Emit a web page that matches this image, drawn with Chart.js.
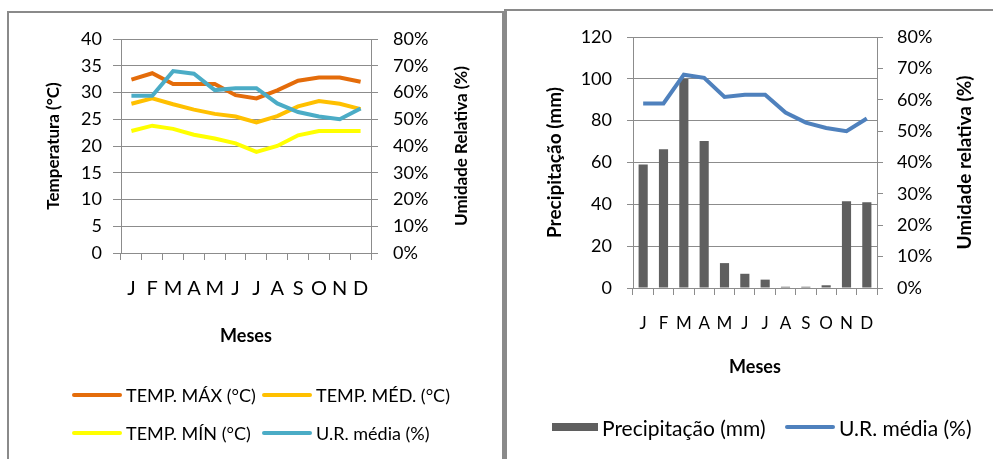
<!DOCTYPE html>
<html>
<head>
<meta charset="utf-8">
<script src="https://cdn.jsdelivr.net/npm/chart.js@4/dist/chart.umd.min.js"></script>
<style>
  html, body { margin: 0; padding: 0; background: #fff; }
  body { width: 993px; height: 459px; position: relative; overflow: hidden; font-family: Lato, "Open Sans", sans-serif; }
  .painel { position: absolute; border: 2px solid #8a8a8a; border-bottom: none; }
  #painelTemp { left: 7px; top: 11px; width: 493px; height: 460px; }
  #painelPrec { left: 504px; top: 9px; width: 500px; height: 460px; border-left-width: 3px; border-right: none; }
  canvas { position: absolute; top: 0; }
  #grafTemp { left: 0; }
  #grafPrec { left: 505px; }
  .legenda { position: absolute; display: flex; align-items: center; white-space: nowrap; color: #000; }
  .legenda .marca { display: inline-block; margin-right: 4px; }
</style>
</head>
<body>
<div class="painel" id="painelTemp"></div>
<div class="painel" id="painelPrec"></div>
<canvas id="grafTemp" width="502" height="459"></canvas>
<canvas id="grafPrec" width="488" height="459"></canvas>
<div id="legendas"></div>
<script>
// dados
const meses = ['J', 'F', 'M', 'A', 'M', 'J', 'J', 'A', 'S', 'O', 'N', 'D'];
const tempMax = [32.4, 33.6, 31.6, 31.6, 31.6, 29.5, 28.9, 30.4, 32.2, 32.8, 32.8, 32.0];
const tempMed = [27.9, 28.9, 27.8, 26.8, 26.0, 25.5, 24.4, 25.6, 27.4, 28.4, 27.9, 26.9];
const tempMin = [22.8, 23.8, 23.2, 22.1, 21.4, 20.5, 18.9, 20.0, 22.0, 22.8, 22.8, 22.8];
const urMedia = [58.8, 58.8, 68.0, 67.0, 60.9, 61.6, 61.6, 55.9, 52.7, 51.0, 50.0, 54.0];
const precipitacao = [59.0, 66.3, 100.0, 70.3, 11.9, 6.8, 4.0, 0.6, 0.6, 1.3, 41.5, 41.0];

const corGrade = '#8c8c8c';
const fonte = 'Lato, "Open Sans", sans-serif';

// título do eixo direito lido de baixo para cima (como no Excel)
const tituloDireita = {
  id: 'tituloDireita',
  afterDraw(chart, args, opts) {
    const eixo = chart.scales.yUR;
    const ctx = chart.ctx;
    ctx.save();
    ctx.translate(eixo.right - opts.margem, (eixo.top + eixo.bottom) / 2);
    ctx.rotate(-Math.PI / 2);
    ctx.font = 'bold ' + opts.size + 'px ' + fonte;
    ctx.fillStyle = '#000';
    ctx.textAlign = 'center';
    ctx.textBaseline = 'middle';
    ctx.fillText(opts.texto, 0, 0);
    ctx.restore();
  }
};

function eixoY(opcoes) {
  return {
    position: opcoes.position,
    min: 0,
    max: opcoes.max,
    ticks: {
      stepSize: opcoes.step,
      padding: opcoes.padding,
      color: '#000',
      font: { family: fonte, size: opcoes.fontSize },
      callback: opcoes.callback
    },
    grid: { color: corGrade, tickLength: opcoes.tick, drawOnChartArea: opcoes.grade },
    border: { color: corGrade },
    title: {
      display: !!opcoes.titulo,
      text: opcoes.titulo,
      color: '#000',
      font: { family: fonte, size: opcoes.tituloSize, weight: 'bold' },
      padding: { top: opcoes.tituloPad, bottom: 0 }
    },
    afterFit: (s) => { s.width = opcoes.largura; }
  };
}

function eixoX(opcoes) {
  return {
    offset: true,
    grid: { offset: true, drawOnChartArea: false, tickLength: 7, color: corGrade },
    border: { color: corGrade },
    ticks: {
      color: '#000', padding: opcoes.padding, autoSkip: false, maxRotation: 0, minRotation: 0,
      font: { family: fonte, size: opcoes.fontSize }
    },
    title: {
      display: true,
      text: 'Meses',
      color: '#000',
      font: { family: fonte, size: 18, weight: 'bold' },
      padding: { top: 0, bottom: opcoes.tituloPad }
    },
    afterFit: (s) => { s.height = opcoes.altura; }
  };
}

// gráfico da esquerda: temperaturas e umidade
new Chart(document.getElementById('grafTemp'), {
  type: 'line',
  data: {
    labels: meses,
    datasets: [
      { label: 'U.R. média (%)', data: urMedia, borderColor: '#4BACC6', yAxisID: 'yUR', order: 0 },
      { label: 'TEMP. MÁX (°C)', data: tempMax, borderColor: '#E46C0A', yAxisID: 'y', order: 1 },
      { label: 'TEMP. MÉD. (°C)', data: tempMed, borderColor: '#FFC000', yAxisID: 'y', order: 2 },
      { label: 'TEMP. MÍN (°C)', data: tempMin, borderColor: '#FFFF00', yAxisID: 'y', order: 3 }
    ]
  },
  plugins: [tituloDireita],
  options: {
    responsive: false,
    animation: false,
    layout: { padding: { top: 39 } },
    elements: { point: { radius: 0 }, line: { borderWidth: 4, tension: 0 } },
    plugins: {
      legend: { display: false },
      tooltip: { enabled: false },
      tituloDireita: { texto: 'Umidade Relativa (%)', size: 17, margem: 40 }
    },
    scales: {
      x: eixoX({ fontSize: 20, padding: 17, tituloPad: 112, altura: 206 }),
      y: eixoY({ position: 'left', max: 40, step: 5, padding: 11, tick: 8, grade: true, fontSize: 18,
        titulo: 'Temperatura (°C)', tituloSize: 17, tituloPad: 43, largura: 121 }),
      yUR: eixoY({ position: 'right', max: 80, step: 10, padding: 15, tick: 7, grade: false, fontSize: 18,
        callback: (v) => v + '%', largura: 131 })
    }
  }
});

// gráfico da direita: precipitação e umidade
new Chart(document.getElementById('grafPrec'), {
  type: 'bar',
  data: {
    labels: meses,
    datasets: [
      { type: 'line', label: 'U.R. média (%)', data: urMedia, borderColor: '#4F81BD', yAxisID: 'yUR', order: 0 },
      { type: 'bar', label: 'Precipitação (mm)', data: precipitacao, backgroundColor: '#5F5F5F', yAxisID: 'y', order: 1,
        barPercentage: 0.45, categoryPercentage: 1 }
    ]
  },
  plugins: [tituloDireita],
  options: {
    responsive: false,
    animation: false,
    layout: { padding: { top: 37 } },
    elements: { point: { radius: 0 }, line: { borderWidth: 4, tension: 0 } },
    plugins: {
      legend: { display: false },
      tooltip: { enabled: false },
      tituloDireita: { texto: 'Umidade relativa (%)', size: 19, margem: 28 }
    },
    scales: {
      x: eixoX({ fontSize: 17, padding: 18, tituloPad: 81, altura: 171 }),
      y: eixoY({ position: 'left', max: 120, step: 20, padding: 15, tick: 6, grade: true, fontSize: 18,
        titulo: 'Precipitação (mm)', tituloSize: 19, tituloPad: 38, largura: 128 }),
      yUR: eixoY({ position: 'right', max: 80, step: 10, padding: 14, tick: 6, grade: false, fontSize: 18,
        callback: (v) => v + '%', largura: 116 })
    }
  }
});

// legendas (posições iguais às do original)
const legendas = [
  { texto: 'TEMP. MÁX (°C)', cor: '#E46C0A', x: 72, y: 395, tipo: 'linha', size: 18 },
  { texto: 'TEMP. MÉD. (°C)', cor: '#FFC000', x: 262, y: 395, tipo: 'linha', size: 18 },
  { texto: 'TEMP. MÍN (°C)', cor: '#FFFF00', x: 72, y: 433, tipo: 'linha', size: 18 },
  { texto: 'U.R. média (%)', cor: '#4BACC6', x: 262, y: 433, tipo: 'linha', size: 18 },
  { texto: 'Precipitação (mm)', cor: '#5F5F5F', x: 552, y: 427, tipo: 'caixa', size: 21 },
  { texto: 'U.R. média (%)', cor: '#4F81BD', x: 785, y: 427, tipo: 'linha', size: 21 }
];
const alvo = document.getElementById('legendas');
legendas.forEach(item => {
  const el = document.createElement('div');
  el.className = 'legenda';
  el.style.left = item.x + 'px';
  el.style.top = (item.y - 14) + 'px';
  el.style.height = '28px';
  el.style.fontSize = item.size + 'px';
  const marca = document.createElement('span');
  marca.className = 'marca';
  marca.style.background = item.cor;
  if (item.tipo === 'caixa') {
    marca.style.width = '46px';
    marca.style.height = '8px';
  } else {
    marca.style.width = '50px';
    marca.style.height = '4px';
    marca.style.borderRadius = '2px';
  }
  el.appendChild(marca);
  el.appendChild(document.createTextNode(item.texto));
  alvo.appendChild(el);
});
</script>
</body>
</html>
